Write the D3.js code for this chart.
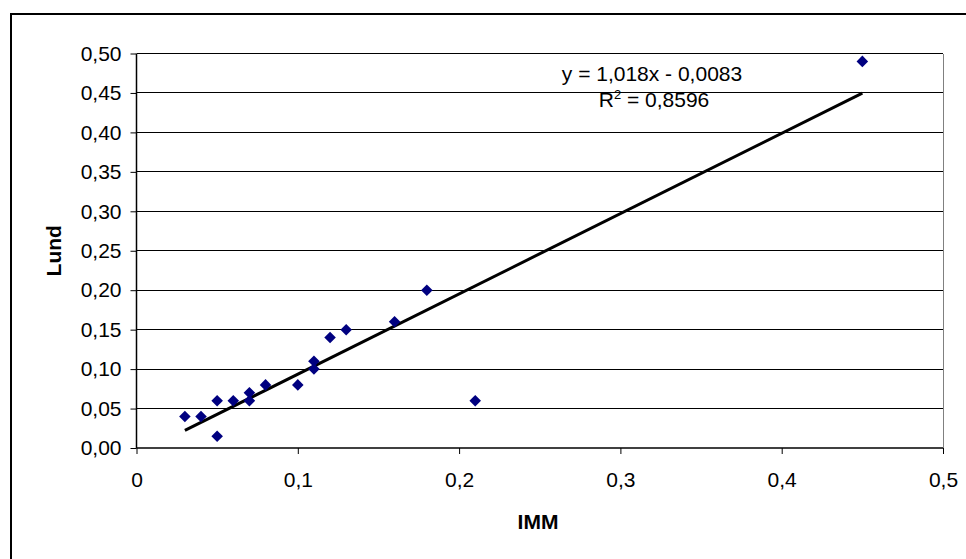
<!DOCTYPE html>
<html>
<head>
<meta charset="utf-8">
<script src="https://cdn.jsdelivr.net/npm/d3@7"></script>
<style>
  body { margin: 0; background: #fff; }
  text { font-family: "Liberation Sans", Arial, sans-serif; fill: #000; }
</style>
</head>
<body>
<div id="chart"></div>
<script>
// IMM (x) vs Lund (y)
const immValues = [0.03, 0.04, 0.05, 0.05, 0.06, 0.07, 0.07, 0.08, 0.10, 0.11, 0.11, 0.12, 0.13, 0.16, 0.18, 0.21, 0.45];
const lundValues = [0.04, 0.04, 0.015, 0.06, 0.06, 0.06, 0.07, 0.08, 0.08, 0.10, 0.11, 0.14, 0.15, 0.16, 0.20, 0.06, 0.49];
const xTicks = [0, 0.1, 0.2, 0.3, 0.4, 0.5];
const yTicks = [0, 0.05, 0.10, 0.15, 0.20, 0.25, 0.30, 0.35, 0.40, 0.45, 0.50];
const trendSlope = 1.018;
const trendIntercept = -0.0083;
const trendLabel = "y = 1,018x - 0,0083";
const r2Label = "0,8596";

const W = 966, H = 559;
const plotL = 136.5, plotR = 943, plotT = 53.5, plotB = 448;
const fontSize = "21px";

const svg = d3.select("#chart").append("svg")
    .attr("width", W)
    .attr("height", H);

// outer chart frame
svg.append("rect")
    .attr("x", 11).attr("y", 14)
    .attr("width", 1000).attr("height", 600)
    .attr("fill", "#fff")
    .attr("stroke", "#000")
    .attr("stroke-width", 2);

const x = d3.scaleLinear().domain([0, 0.5]).range([plotL, plotR]);
const y = d3.scaleLinear().domain([0, 0.5]).range([plotB, plotT]);

const comma = f => d => d3.format(f)(d).replace(".", ",");

// gridlines
svg.append("g")
    .selectAll("line")
    .data(yTicks.filter(d => d > 0))
    .join("line")
    .attr("x1", plotL).attr("x2", plotR)
    .attr("y1", d => y(d)).attr("y2", d => y(d))
    .attr("stroke", "#000")
    .attr("stroke-width", 1)
    .attr("shape-rendering", "crispEdges");

// right border
svg.append("line")
    .attr("x1", plotR).attr("x2", plotR)
    .attr("y1", plotT).attr("y2", plotB)
    .attr("stroke", "#808080")
    .attr("shape-rendering", "crispEdges");

const yAxis = svg.append("g")
    .attr("transform", `translate(${plotL},0)`)
    .call(d3.axisLeft(y).tickValues(yTicks).tickFormat(comma(".2f")).tickSize(6).tickPadding(9));

const xAxis = svg.append("g")
    .attr("transform", `translate(0,${plotB})`)
    .call(d3.axisBottom(x).tickValues(xTicks).tickFormat(d => d === 0 ? "0" : comma(".1f")(d)).tickSize(6).tickPadding(18));

[xAxis, yAxis].forEach(g => {
  g.selectAll("path.domain").attr("stroke", "#000").attr("stroke-width", 1.5);
  g.selectAll(".tick line").attr("stroke", "#000");
  g.selectAll("text")
      .style("font-family", "'Liberation Sans', Arial, sans-serif")
      .style("font-size", fontSize)
      .attr("fill", "#000");
});
xAxis.select("path.domain").attr("d", `M${plotL},0H${plotR}`);
yAxis.select("path.domain").attr("d", `M0,${plotB}V${plotT}`);

// trendline
const xMin = d3.min(immValues), xMax = d3.max(immValues);
svg.append("line")
    .attr("x1", x(xMin)).attr("y1", y(trendSlope * xMin + trendIntercept))
    .attr("x2", x(xMax)).attr("y2", y(trendSlope * xMax + trendIntercept))
    .attr("stroke", "#000")
    .attr("stroke-width", 3);

// markers
const diamond = d3.symbol().type(d3.symbolDiamond2).size(85);
svg.append("g")
    .selectAll("path")
    .data(immValues.map((d, i) => [d, lundValues[i]]))
    .join("path")
    .attr("transform", d => `translate(${x(d[0])},${y(d[1])})`)
    .attr("d", diamond)
    .attr("fill", "#000080");

// equation labels
svg.append("text")
    .attr("x", 652).attr("y", 81)
    .attr("text-anchor", "middle")
    .style("font-size", fontSize)
    .text(trendLabel);

const r2 = svg.append("text")
    .attr("x", 654).attr("y", 107)
    .attr("text-anchor", "middle")
    .style("font-size", fontSize);
r2.append("tspan").text("R");
r2.append("tspan").attr("dy", -8).style("font-size", "13px").text("2");
r2.append("tspan").attr("dy", 8).text(" = " + r2Label);

// axis titles
svg.append("text")
    .attr("x", 538).attr("y", 529)
    .attr("text-anchor", "middle")
    .style("font-size", fontSize)
    .style("font-weight", "bold")
    .text("IMM");

svg.append("text")
    .attr("transform", `translate(61,${(plotT + plotB) / 2}) rotate(-90)`)
    .attr("text-anchor", "middle")
    .style("font-size", fontSize)
    .style("font-weight", "bold")
    .text("Lund");
</script>
</body>
</html>
